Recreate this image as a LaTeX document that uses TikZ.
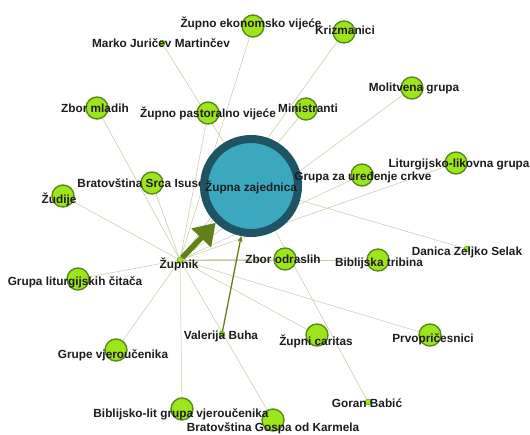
\documentclass[tikz,border=0pt]{standalone}
\usepackage{fontspec}
\setmainfont{Liberation Sans}
\usetikzlibrary{arrows.meta,backgrounds}
\definecolor{edgegray}{RGB}{196,202,160}
\definecolor{nodegreen}{RGB}{158,230,28}
\definecolor{nodeline}{RGB}{88,138,22}
\definecolor{arrowolive}{RGB}{96,128,26}
\definecolor{zteal}{RGB}{60,168,192}
\definecolor{zring}{RGB}{30,84,100}
\definecolor{labelgray}{RGB}{28,28,28}

\begin{document}
\begin{tikzpicture}[x=1pt,y=-1pt,
  grp/.style={circle, draw=nodeline, fill=nodegreen, line width=1.4pt, minimum size=22pt, inner sep=0pt},
  pers/.style={circle, draw=nodeline, fill=nodegreen, line width=0.4pt, minimum size=6pt, inner sep=0pt},
  lbl/.style={font=\fontsize{11.8}{13}\selectfont\bfseries, text=labelgray, inner sep=0pt},
  edge/.style={draw=edgegray, line width=0.5pt},
  bigarrow/.style={draw=arrowolive, line width=5.5pt, -{Triangle[length=21pt,width=26pt]}},
  valarrow/.style={draw=arrowolive, line width=1.3pt, -{Stealth[length=6pt,width=5pt]}}]
\useasboundingbox (0,0) rectangle (530,434);
% Group nodes
\node[grp] (ekon) at (253,26) {};
\node[grp] (kriz) at (344,32) {};
\node[grp] (mladih) at (97,108) {};
\node[grp] (pastoral) at (208,113) {};
\node[grp] (minis) at (306,109) {};
\node[grp] (molit) at (412,88) {};
\node[grp] (litlik) at (456,163) {};
\node[grp] (uredj) at (362,175) {};
\node[grp] (srca) at (152,183) {};
\node[grp] (zudije) at (63,196) {};
\node[grp] (citaca) at (78,279) {};
\node[grp] (vjerouc) at (116,350) {};
\node[grp] (biblit) at (182,409) {};
\node[grp] (karmel) at (273,420) {};
\node[grp] (odrasl) at (285,259) {};
\node[grp] (tribina) at (378,260) {};
\node[grp] (caritas) at (317,335) {};
\node[grp] (prvo) at (430,335) {};
% Persons
\node[pers] (marko) at (162,43) {};
\node[pers] (zupnik) at (180,260) {};
\node[pers] (valerija) at (222,334) {};
\node[pers] (danica) at (467,249) {};
\node[pers] (goran) at (368,402) {};
% Labels
\node[lbl] (t-ekon) at (251,23) {Župno ekonomsko vijeće};
\node[lbl] (t-marko) at (161,43) {Marko Juričev Martinčev};
\node[lbl] (t-kriz) at (345,30) {Krizmanici};
\node[lbl] (t-mladih) at (95,108) {Zbor mladih};
\node[lbl] (t-pastoral) at (208,113) {Župno pastoralno vijeće};
\node[lbl] (t-minis) at (308,108) {Ministranti};
\node[lbl] (t-molit) at (414,88) {Molitvena grupa};
\node[lbl] (t-litlik) at (459,164) {Liturgijsko-likovna grupa};
\node[lbl] (t-srca) at (148,183) {Bratovština Srca Isusova};
\node[lbl] (t-zudije) at (59,199) {Žudije};
\node[lbl] (t-zupnik) at (179,264) {Župnik};
\node[lbl] (t-citaca) at (75,282) {Grupa liturgijskih čitača};
\node[lbl] (t-vjerouc) at (113,355) {Grupe vjeroučenika};
\node[lbl] (t-biblit) at (181,414) {Biblijsko-lit grupa vjeroučenika};
\node[lbl] (t-karmel) at (273,428) {Bratovština Gospa od Karmela};
\node[lbl] (t-valerija) at (221,336) {Valerija Buha};
\node[lbl] (t-odrasl) at (283,259) {Zbor odraslih};
\node[lbl] (t-tribina) at (379,263) {Biblijska tribina};
\node[lbl] (t-danica) at (467,252) {Danica Zeljko Selak};
\node[lbl] (t-caritas) at (316,341) {Župni caritas};
\node[lbl] (t-prvo) at (433,339) {Prvopričesnici};
\node[lbl] (t-goran) at (367,403) {Goran Babić};
% Central node
\node[circle, fill=zteal, draw=zring, line width=8pt, minimum size=94pt, inner sep=0pt] (zajed) at (251,186) {};
\node[lbl] (t-zajed) at (251,187) {Župna zajednica};
\node[lbl] (t-uredj) at (363,177) {Grupa za uređenje crkve};
% Edges
\begin{scope}[on background layer]
\foreach \g in {ekon,kriz,mladih,pastoral,minis,molit,litlik,uredj,srca,zudije,citaca,vjerouc,biblit,karmel,odrasl,tribina,caritas,prvo}
  \draw[edge] (zupnik) -- (\g);
\foreach \p in {marko,danica,goran}
  \draw[edge] (\p) -- (zajed);
\draw[valarrow] (valerija) -- (zajed);
\draw[bigarrow] (zupnik) -- (zajed);
\end{scope}
\end{tikzpicture}
\end{document}
